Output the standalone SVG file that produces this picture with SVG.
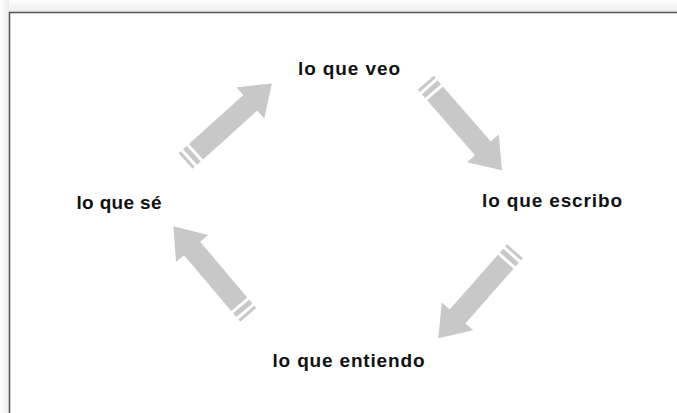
<svg xmlns="http://www.w3.org/2000/svg" width="677" height="413" viewBox="0 0 677 413">
  <defs>
    <linearGradient id="shTop" x1="0" y1="0" x2="0" y2="1">
      <stop offset="0" stop-color="#ffffff"/>
      <stop offset="1" stop-color="#ececec"/>
    </linearGradient>
    <linearGradient id="shLeft" x1="0" y1="0" x2="1" y2="0">
      <stop offset="0" stop-color="#ffffff"/>
      <stop offset="1" stop-color="#ececec"/>
    </linearGradient>
    <g id="arrow">
      <rect x="-14" y="-10.5" width="3" height="21"/>
      <rect x="-8" y="-10.5" width="5" height="21"/>
      <rect x="0" y="-10.5" width="74" height="21"/>
      <polygon points="73,-21 102,0 73,21"/>
    </g>
  </defs>
  <style>
    .lbl { font-family: "Liberation Sans", Arial, sans-serif; font-weight: bold; font-size: 19px; fill: #111; }
    .arr { fill: #c8c8c8; }
  </style>
  <rect x="0" y="0" width="677" height="413" fill="#ffffff"/>
  <rect x="0" y="0" width="677" height="12" fill="url(#shTop)"/>
  <rect x="0" y="0" width="9" height="413" fill="url(#shLeft)"/>
  <rect x="9" y="12" width="668" height="401" fill="#ffffff"/>
  <path d="M9.5,413 V12.5 H677" fill="none" stroke="#555" stroke-width="1.5"/>

  <g id="connectors" class="arr">
    <use href="#arrow" transform="translate(196,151.7) rotate(-42)"/>
    <use href="#arrow" transform="translate(435,93.3) rotate(49)"/>
    <use href="#arrow" transform="translate(505.8,261.7) rotate(131.4)"/>
    <use href="#arrow" transform="translate(239.2,304.2) rotate(-130.2)"/>
  </g>

  <g id="node-veo"><text class="lbl" x="298" y="75" textLength="102" lengthAdjust="spacing">lo que veo</text></g>
  <g id="node-escribo"><text class="lbl" x="482" y="207" textLength="140" lengthAdjust="spacing">lo que escribo</text></g>
  <g id="node-entiendo"><text class="lbl" x="272.5" y="366.5" textLength="152" lengthAdjust="spacing">lo que entiendo</text></g>
  <g id="node-se"><text class="lbl" x="76.5" y="208.5" textLength="85" lengthAdjust="spacing">lo que sé</text></g>
</svg>
